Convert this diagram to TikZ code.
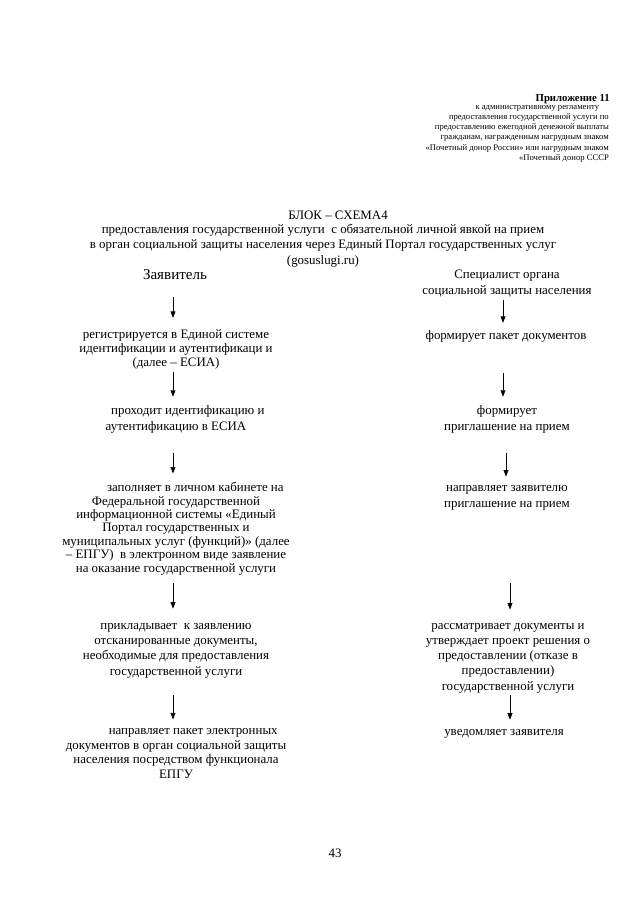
\documentclass[tikz,border=0pt]{standalone}
\usepackage{fontspec}
\setmainfont{Liberation Serif}
\usetikzlibrary{arrows.meta}

\tikzset{
	every node/.style={inner sep=0pt},
	stepnode/.style={align=center, anchor=base, font=\fontsize{12}{13}\selectfont},
	arr/.style={-{Triangle[length=6pt,width=4.5pt]}, line width=0.6pt, shorten >=8.4pt},
}

\begin{document}
\begin{tikzpicture}[x=0.9297pt, y=-0.9297pt]
	\useasboundingbox (0,0) rectangle (640,905);

	\node[font=\bfseries\fontsize{10}{12}\selectfont, anchor=base east] (pril) at (610,101) {Приложение 11};
	\node[font=\fontsize{8}{9.3}\selectfont, align=right, anchor=base east] (prilt) at (609,160) {к административному регламенту\hspace*{9pt}\\предоставления государственной услуги по\\предоставлению ежегодной денежной выплаты\\гражданам, награжденным нагрудным знаком\\«Почетный донор России» или нагрудным знаком\\«Почетный донор СССР};

	\node[stepnode] (title) at (338,219) {БЛОК – СХЕМА4};
	\node[stepnode, font=\fontsize{12}{14}\selectfont] (subtitle) at (323,264) {предоставления государственной услуги\ \ с обязательной личной явкой на прием\\в орган социальной защиты населения через Единый Портал государственных услуг\\(gosuslugi.ru)};

	\node[stepnode, font=\fontsize{14}{16}\selectfont] (zav) at (175,279) {Заявитель};
	\node[stepnode, font=\fontsize{12}{14}\selectfont] (spec) at (507,294) {Специалист органа\\социальной защиты населения};

	\node[stepnode] (l1) at (176,366) {регистрируется в Единой системе\\идентификации и аутентификаци и\\(далее – ЕСИА)};
	\node[stepnode, font=\fontsize{12}{14}\selectfont] (l2) at (176,430) {\hspace*{22pt}проходит идентификацию и\\аутентификацию в ЕСИА};
	\node[stepnode, font=\fontsize{12}{12.4}\selectfont] (l3) at (176,572) {\hspace*{36pt}заполняет в личном кабинете на\\Федеральной государственной\\информационной системы «Единый\\Портал государственных и\\муниципальных услуг (функций)» (далее\\– ЕПГУ)\ \ в электронном виде заявление\\на оказание государственной услуги};
	\node[stepnode, font=\fontsize{12}{14}\selectfont] (l4) at (176,675) {прикладывает\ \ к заявлению\\отсканированные документы,\\необходимые для предоставления\\государственной услуги};
	\node[stepnode, font=\fontsize{12}{13.4}\selectfont] (l5) at (176,778) {\hspace*{32pt}направляет пакет электронных\\документов в орган социальной защиты\\населения посредством функционала\\ЕПГУ};

	\node[stepnode] (r1) at (506,339) {формирует пакет документов};
	\node[stepnode, font=\fontsize{12}{14}\selectfont] (r2) at (507,430) {формирует\\приглашение на прием};
	\node[stepnode, font=\fontsize{12}{14}\selectfont] (r3) at (507,507) {направляет заявителю\\приглашение на прием};
	\node[stepnode, font=\fontsize{12}{14}\selectfont] (r4) at (508,690) {рассматривает документы и\\утверждает проект решения о\\предоставлении (отказе в\\предоставлении)\\государственной услуги};
	\node[stepnode] (r5) at (504,735) {уведомляет заявителя};

	\node[stepnode] (page) at (335,857) {43};

	\coordinate (la1) at (173,297);
	\coordinate (la2) at (173,372);
	\coordinate (la3) at (173,453);
	\coordinate (la4) at (173,583);
	\coordinate (la5) at (173,695);
	\coordinate (ra1) at (503,300);
	\coordinate (ra2) at (503,373);
	\coordinate (ra3) at (506,453);
	\coordinate (ra4) at (510,583);
	\coordinate (ra5) at (510,695);

	\draw[arr, shorten >=10.3pt] (la1) -- (la1 |- l1.north);
	\draw[arr] (la2) -- (la2 |- l2.north);
	\draw[arr] (la3) -- (la3 |- l3.north);
	\draw[arr, shorten >=13.9pt] (la4) -- (la4 |- l4.north);
	\draw[arr] (la5) -- (la5 |- l5.north);
	\draw[arr, shorten >=6.5pt] (ra1) -- (ra1 |- r1.north);
	\draw[arr] (ra2) -- (ra2 |- r2.north);
	\draw[arr] (ra3) -- (ra3 |- r3.north);
	\draw[arr, shorten >=12.9pt] (ra4) -- (ra4 |- r4.north);
	\draw[arr] (ra5) -- (ra5 |- r5.north);

\end{tikzpicture}
\end{document}
